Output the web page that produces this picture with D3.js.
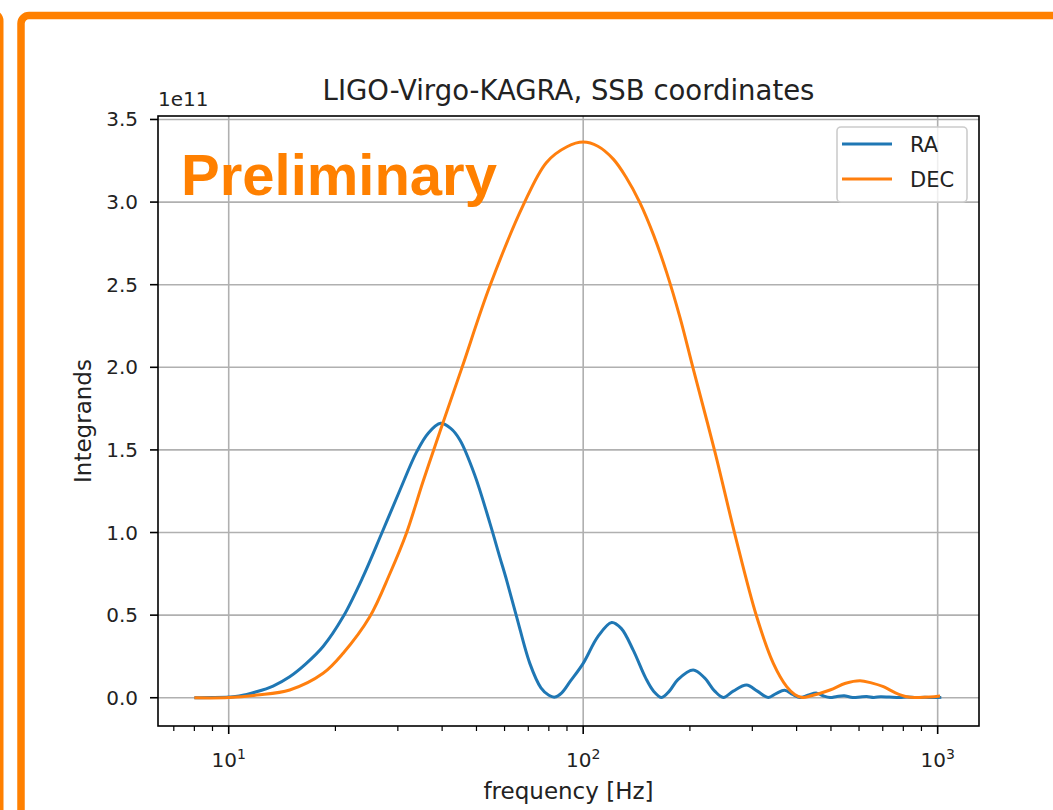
<!DOCTYPE html>
<html>
<head>
<meta charset="utf-8">
<script src="https://cdn.jsdelivr.net/npm/d3@7"></script>
<style>
  html, body { margin: 0; padding: 0; background: #fff; }
  svg { display: block; }
  text { font-family: "DejaVu Sans", sans-serif; fill: #222; }
</style>
</head>
<body>
<svg id="chart" width="1053" height="810"></svg>
<script>
// values are in units of 1e11
const raFreq = [8, 9, 10, 10.7, 11.97, 13.34, 14.86, 16.5, 18.46, 21.0, 23.9, 27.0, 30.4, 33.9, 36.5, 39.6, 42.3, 44.9, 49.4, 54.5, 58.2, 60.8, 64.9, 70.7, 76, 80, 83.2, 87, 92, 100, 110, 120.3, 128, 138.4, 150, 158, 166.5, 175, 185, 204.4, 220, 235, 248.5, 265, 289, 310, 332.8, 350, 370, 390, 409, 430, 456, 475, 497, 520, 545, 565, 580, 605, 631, 660, 690, 730, 780, 820, 870, 920, 970, 1024];
const raVal = [0, 0.001, 0.004, 0.01, 0.036, 0.071, 0.127, 0.205, 0.31, 0.488, 0.73, 0.994, 1.256, 1.488, 1.6, 1.661, 1.63, 1.56, 1.35, 1.06, 0.85, 0.712, 0.49, 0.208, 0.06, 0.015, 0.004, 0.03, 0.1, 0.208, 0.37, 0.456, 0.42, 0.288, 0.12, 0.04, 0.002, 0.04, 0.11, 0.168, 0.12, 0.04, 0.002, 0.04, 0.077, 0.04, 0.002, 0.025, 0.045, 0.02, 0.001, 0.015, 0.028, 0.012, 0.001, 0.008, 0.012, 0.005, 0.001, 0.005, 0.008, 0.002, 0.006, 0.004, 0.001, 0.004, 0.001, 0.003, 0.001, 0.003];

const decFreq = [8, 10, 12, 14.86, 18.46, 21.0, 25.0, 28.5, 31.7, 35.3, 39.4, 45.4, 54.5, 67.7, 78.8, 90, 100, 110, 121.6, 132, 144.5, 158, 172, 187.5, 204.4, 235.3, 268, 308.7, 343.9, 375, 395, 415, 440, 497, 550, 604, 650, 703, 760, 818, 870, 950, 1016];
const decVal = [0, 0.001, 0.016, 0.047, 0.148, 0.268, 0.49, 0.752, 0.994, 1.306, 1.609, 1.992, 2.49, 2.98, 3.24, 3.335, 3.363, 3.338, 3.26, 3.152, 2.997, 2.8, 2.573, 2.302, 1.99, 1.488, 0.988, 0.49, 0.208, 0.067, 0.02, 0.001, 0.012, 0.047, 0.088, 0.103, 0.09, 0.067, 0.03, 0.006, 0.002, 0.004, 0.01];

const yTicks = [0, 0.5, 1.0, 1.5, 2.0, 2.5, 3.0, 3.5];
const xTicks = [10, 100, 1000];
const seriesNames = ["RA", "DEC"];
const seriesColors = ["#1f77b4", "#ff7f0e"];

const svg = d3.select("#chart");
const box = { left: 158, right: 979, top: 116, bottom: 726 };

// orange slide frames
svg.append("rect")
  .attr("x", -200).attr("y", 13).attr("width", 200).attr("height", 900)
  .attr("rx", 8).attr("fill", "none").attr("stroke", "#ff8000").attr("stroke-width", 7);
svg.append("rect")
  .attr("x", 21).attr("y", 15.5).attr("width", 1200).attr("height", 1000)
  .attr("rx", 8).attr("fill", "none").attr("stroke", "#ff8000").attr("stroke-width", 7.5);

const x = d3.scaleLog().domain([6.317, 1308]).range([box.left, box.right]);
const y = d3.scaleLinear().domain([-0.171, 3.521]).range([box.bottom, box.top]);

// grid
const grid = svg.append("g");
grid.selectAll(".gx").data(xTicks).join("line")
  .attr("x1", d => x(d)).attr("x2", d => x(d))
  .attr("y1", box.top).attr("y2", box.bottom)
  .attr("stroke", "#b0b0b0").attr("stroke-width", 1.6);
grid.selectAll(".gy").data(yTicks).join("line")
  .attr("x1", box.left).attr("x2", box.right)
  .attr("y1", d => y(d)).attr("y2", d => y(d))
  .attr("stroke", "#b0b0b0").attr("stroke-width", 1.6);

// Preliminary watermark
svg.append("text")
  .attr("x", 181).attr("y", 195)
  .style("font-family", "'Liberation Sans', Arial, sans-serif")
  .style("font-weight", "bold").style("font-size", "58px")
  .style("fill", "#ff8000")
  .text("Preliminary");

// curves
const line = d3.line().curve(d3.curveCatmullRom.alpha(0.5));
const series = [
  raFreq.map((f, i) => [x(f), y(raVal[i])]),
  decFreq.map((f, i) => [x(f), y(decVal[i])])
];
svg.append("g").selectAll("path").data(series).join("path")
  .attr("d", line)
  .attr("fill", "none")
  .attr("stroke", (d, i) => seriesColors[i])
  .attr("stroke-width", 3)
  .attr("stroke-linejoin", "round");

// spines
svg.append("rect")
  .attr("x", box.left).attr("y", box.top)
  .attr("width", box.right - box.left).attr("height", box.bottom - box.top)
  .attr("fill", "none").attr("stroke", "#000").attr("stroke-width", 1.6);

// y ticks
const yAx = svg.append("g");
yAx.selectAll("line").data(yTicks).join("line")
  .attr("x1", box.left - 8).attr("x2", box.left)
  .attr("y1", d => y(d)).attr("y2", d => y(d))
  .attr("stroke", "#000").attr("stroke-width", 1.6);
yAx.selectAll("text").data(yTicks).join("text")
  .attr("x", box.left - 20).attr("y", d => y(d) + 7)
  .attr("text-anchor", "end").style("font-size", "20px")
  .text(d3.format(".1f"));

svg.append("text").attr("x", box.left).attr("y", 106)
  .style("font-size", "20px").text("1e11");

// x ticks
const minor = [];
[1, 10, 100].forEach(k => d3.range(2, 10).forEach(m => {
  const v = m * k;
  if (v > x.domain()[0] && v < x.domain()[1]) minor.push(v);
}));
svg.append("g").selectAll("line").data(minor).join("line")
  .attr("x1", d => x(d)).attr("x2", d => x(d))
  .attr("y1", box.bottom).attr("y2", box.bottom + 5)
  .attr("stroke", "#000").attr("stroke-width", 1.2);
const xAx = svg.append("g");
xAx.selectAll("line").data(xTicks).join("line")
  .attr("x1", d => x(d)).attr("x2", d => x(d))
  .attr("y1", box.bottom).attr("y2", box.bottom + 8)
  .attr("stroke", "#000").attr("stroke-width", 1.6);
const xl = xAx.selectAll("text").data(xTicks).join("text")
  .attr("x", d => x(d)).attr("y", 767)
  .attr("text-anchor", "middle").style("font-size", "20px");
xl.append("tspan").text("10");
xl.append("tspan").attr("dy", -8).style("font-size", "14px")
  .text(d => Math.round(Math.log10(d)));

// axis labels and title
svg.append("text").attr("x", (box.left + box.right) / 2).attr("y", 799)
  .attr("text-anchor", "middle").style("font-size", "23px")
  .text("frequency [Hz]");
svg.append("text")
  .attr("transform", `translate(91,${(box.top + box.bottom) / 2}) rotate(-90)`)
  .attr("text-anchor", "middle").style("font-size", "23px")
  .text("Integrands");
svg.append("text").attr("x", (box.left + box.right) / 2).attr("y", 100)
  .attr("text-anchor", "middle").style("font-size", "27.5px")
  .text("LIGO-Virgo-KAGRA, SSB coordinates");

// legend
const lg = svg.append("g");
lg.append("rect")
  .attr("x", 837).attr("y", 127).attr("width", 130).attr("height", 75)
  .attr("rx", 4).attr("fill", "#fff").attr("fill-opacity", 0.8)
  .attr("stroke", "#cccccc").attr("stroke-width", 1.6);
const items = lg.selectAll("g").data(seriesNames).join("g")
  .attr("transform", (d, i) => `translate(0,${144 + i * 35})`);
items.append("line")
  .attr("x1", 842).attr("x2", 892)
  .attr("stroke", (d, i) => seriesColors[i]).attr("stroke-width", 3);
items.append("text").attr("x", 910).attr("y", 8)
  .style("font-size", "21px").text(d => d);
</script>
</body>
</html>
